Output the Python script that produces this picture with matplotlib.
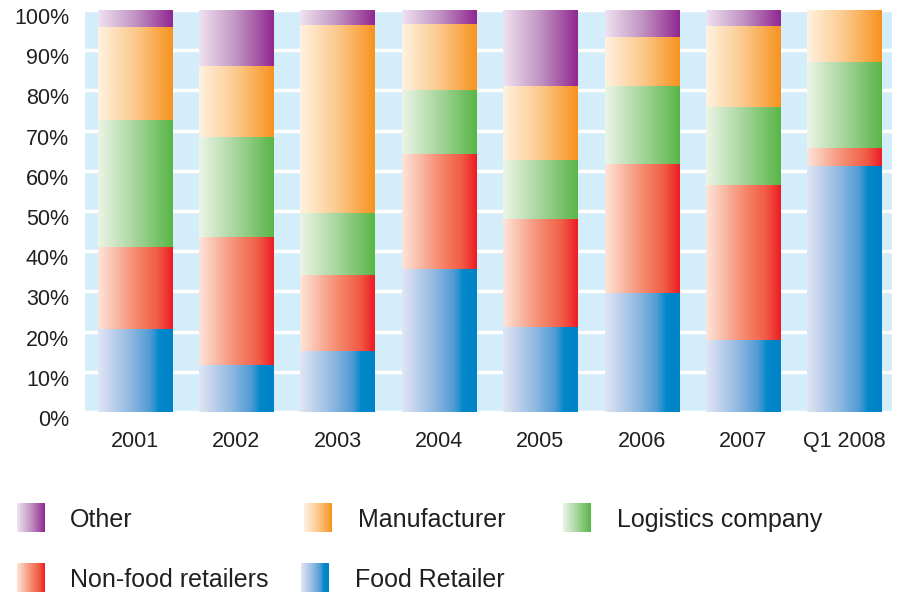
import matplotlib
matplotlib.use('Agg')
import matplotlib.pyplot as plt
import matplotlib.transforms as mtrans
import numpy as np
from matplotlib.colors import LinearSegmentedColormap

plt.rcParams['font.family'] = ['Liberation Sans', 'DejaVu Sans']

years = ['2001', '2002', '2003', '2004', '2005', '2006', '2007', 'Q1 2008']
food = [20.7, 11.8, 15.1, 35.6, 21.2, 29.5, 18.0, 61.3]
nonfood = [20.4, 31.8, 18.9, 28.7, 26.8, 32.2, 38.5, 4.4]
logistics = [31.6, 24.9, 15.4, 15.9, 14.7, 19.4, 19.4, 21.4]
manufacturer = [23.1, 17.6, 46.9, 16.3, 18.4, 12.2, 20.1, 12.9]
other = [4.2, 13.9, 3.7, 3.5, 18.9, 6.7, 4.0, 0.0]

# (values, label, gradient stops left -> right)
series = [
    (food, 'Food Retailer',
     [(0, '#E1E5F4'), (0.45, '#8DB7E1'), (0.7, '#4E9BD4'), (0.82, '#0088CB'), (1, '#0082C6')]),
    (nonfood, 'Non-food retailers',
     [(0, '#FEE5D9'), (0.5, '#F58B6F'), (0.8, '#F15A45'), (1, '#ED1C24')]),
    (logistics, 'Logistics company',
     [(0, '#ECF5E6'), (0.5, '#A6D59C'), (1, '#58B647')]),
    (manufacturer, 'Manufacturer',
     [(0, '#FFF2E0'), (0.5, '#FCC98C'), (1, '#F7931E')]),
    (other, 'Other',
     [(0, '#EFE3F1'), (0.5, '#C193C2'), (1, '#912890')]),
]

text_col = '#231F20'
grad = np.linspace(0, 1, 256).reshape(1, -1)

fig = plt.figure(figsize=(9.01, 5.93), dpi=100)
ax = fig.add_axes([85 / 901, 1 - 412 / 593, (892 - 85) / 901, (412 - 10) / 593])
ax.set_facecolor('#D4EDFA')

x = np.arange(len(years))
bottom = np.zeros(len(years))
for vals, name, stops in series:
    cmap = LinearSegmentedColormap.from_list(name, stops)
    bars = ax.bar(x, vals, 0.73, bottom=bottom, color='none', linewidth=0)
    for b in bars:
        if b.get_height() <= 0:
            continue
        bx, by = b.get_x(), b.get_y()
        ax.imshow(grad, cmap=cmap, vmin=0, vmax=1, aspect='auto',
                  interpolation='bilinear', zorder=2,
                  extent=(bx, bx + b.get_width(), by, by + b.get_height()))
    bottom += np.array(vals)

ax.set_xlim(-0.49, len(years) - 0.53)
ax.set_ylim(0, 100)
ax.set_yticks(range(0, 101, 10))
ax.set_yticklabels([f'{v}%' for v in range(0, 101, 10)])
ax.set_xticks(x)
ax.set_xticklabels(years)
ax.yaxis.grid(True, color='white', linewidth=2.5)
ax.set_axisbelow(True)
for s in ax.spines.values():
    s.set_visible(False)
ax.tick_params(axis='y', length=0, pad=11.5, labelsize=15.5, labelcolor=text_col)
ax.tick_params(axis='x', length=0, pad=13.5, labelsize=15.5, labelcolor=text_col)
shift = mtrans.ScaledTranslation(0, -6 / 100, fig.dpi_scale_trans)
for lab in ax.get_yticklabels():
    lab.set_transform(lab.get_transform() + shift)

# legend drawn in pixel coordinates
lax = fig.add_axes([0, 0, 1, 1], facecolor='none')
leg_pos = {
    'Other': (17, 70, 517.5),
    'Manufacturer': (304, 358, 517.5),
    'Logistics company': (563, 617, 517.5),
    'Non-food retailers': (17, 70, 577.5),
    'Food Retailer': (301, 355, 577.5),
}
for vals, name, stops in series:
    sx, tx, cy = leg_pos[name]
    cmap = LinearSegmentedColormap.from_list(name, stops)
    lax.imshow(grad, cmap=cmap, aspect='auto', interpolation='bilinear',
               extent=(sx, sx + 28, cy + 14.5, cy - 14.5))
    lax.text(tx, cy + 2.5, name, fontsize=18, color=text_col, va='center', ha='left')
lax.set_xlim(0, 901)
lax.set_ylim(593, 0)
lax.axis('off')

fig.savefig('out.png', dpi=100)
